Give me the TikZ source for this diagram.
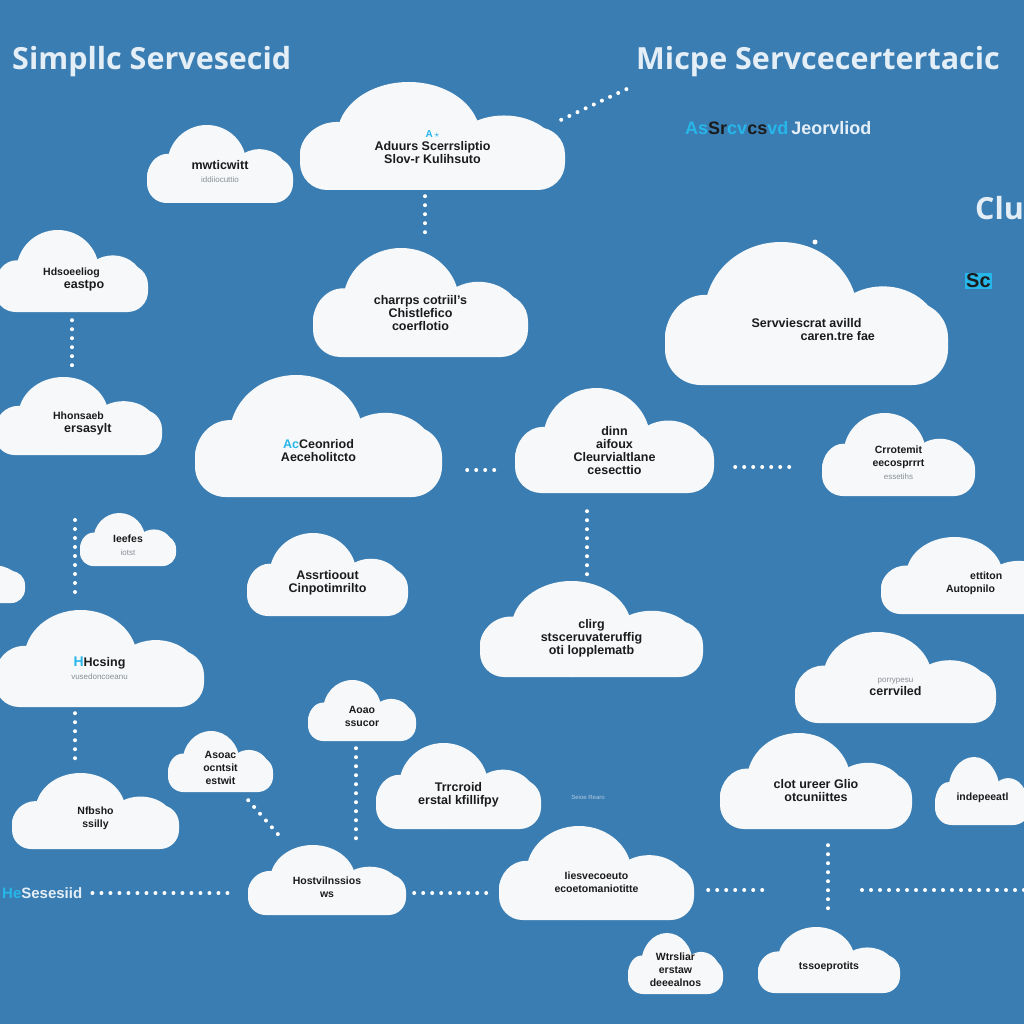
\documentclass[tikz,border=0pt]{standalone}
\usepackage{fontspec}
\setmainfont{Liberation Sans}
\newfontfamily\titlefont{Open Sans}
\usetikzlibrary{calc}
\definecolor{bg}{HTML}{3A7DB2}
\definecolor{cloudw}{HTML}{F6F8FA}
\definecolor{titlec}{HTML}{E4EEF6}
\definecolor{ink}{HTML}{1B1B1B}
\definecolor{subink}{HTML}{8A8F96}
\definecolor{glitch}{HTML}{27B6EA}
\tikzset{
  cloudfill/.style={fill=cloudw},
  ctext/.style={text=ink, font=\bfseries\fontsize{12.5}{13}\selectfont, align=center, inner sep=0pt},
  dots/.style={draw=white, line width=4pt, line cap=round, dash pattern=on 0pt off 9pt},
  titletext/.style={text=titlec, font=\titlefont\bfseries\fontsize{30.5}{30.5}\selectfont, inner sep=0pt, anchor=west},
}
\newcommand\csub{\mdseries\fontsize{8}{9}\selectfont\color{subink}}
\newcommand\smallt{\fontsize{10.5}{11}\selectfont}
% name, x0, y0, x1, y1, text
\newcommand\cloudnode[6]{%
  \pgfmathsetmacro\cw{#4-#2}%
  \pgfmathsetmacro\ch{#5-#3}%
  \pgfmathsetmacro\rc{0.25*\ch}%
  \pgfmathsetmacro\rxa{0.27*\cw}\pgfmathsetmacro\rya{0.5*\ch}%
  \pgfmathsetmacro\rxb{0.2*\cw}\pgfmathsetmacro\ryb{0.34*\ch}%
  \pgfmathsetmacro\rxc{0.14*\cw}\pgfmathsetmacro\ryc{0.31*\ch}%
  \fill[cloudfill,rounded corners=\rc pt] (#2,{#3+0.42*\ch}) rectangle (#4,#5);
  \fill[cloudfill] ({#2+0.41*\cw},{#3+0.5*\ch}) ellipse [x radius=\rxa pt, y radius=\rya pt];
  \fill[cloudfill] ({#2+0.77*\cw},{#3+0.65*\ch}) ellipse [x radius=\rxb pt, y radius=\ryb pt];
  \fill[cloudfill] ({#2+0.14*\cw},{#3+0.68*\ch}) ellipse [x radius=\rxc pt, y radius=\ryc pt];
  \node[inner sep=0pt, minimum width=\cw pt, minimum height=\ch pt] (#1) at ({(#2+#4)/2},{(#3+#5)/2}) {};
  \node[ctext] (#1-t) at ({(#2+#4)/2},{#3+0.6*\ch}) {#6};
}
\begin{document}
\begin{tikzpicture}[x=1pt,y=-1pt]
\fill[bg] (0,0) rectangle (1024,1024);
\useasboundingbox (0,0) rectangle (1024,1024);
\clip (0,0) rectangle (1024,1024);

% titles
\node[titletext] (t1) at (12,62) {Simpllc Servesecid};
\node[titletext] (t2) at (636,62) {Micpe Servcecertertacic};
\node[titletext] (t3) at (975,208) {Clu};
\node[anchor=west, inner sep=0pt, font=\bfseries\fontsize{18}{18}\selectfont] (t4) at (685,128)
  {\textcolor{glitch}{As}\textcolor{ink}{Sr}\textcolor{glitch}{cv}\textcolor{ink}{cs}\textcolor{glitch}{vd}\,\textcolor{titlec}{Jeorvliod}};
\node[anchor=west, inner sep=1pt, fill=glitch, text=ink, font=\bfseries\fontsize{20}{20}\selectfont] (t5) at (965,281) {Sc};
\node[anchor=west, inner sep=0pt, font=\bfseries\fontsize{15}{15}\selectfont] (lt) at (2,893)
  {\textcolor{glitch}{He}\textcolor{titlec}{Sesesiid}};
\node[inner sep=0pt, text=titlec!70!bg, font=\fontsize{6}{6}\selectfont] (ft) at (588,797) {Seioe Rearo};

% clouds
\cloudnode{c1}{300}{82}{565}{190}{\textcolor{glitch}{\fontsize{10}{10}\selectfont A\,$\star$}\\Aduurs Scerrsliptio\\Slov-r Kulihsuto}
\cloudnode{c2}{147}{125}{293}{203}{mwticwitt\\{\csub iddiiocuttio}}
\cloudnode{c3}{-5}{230}{148}{312}{\smallt Hdsoeeliog\\\hspace*{2em}eastpo}
\cloudnode{c4}{313}{248}{528}{357}{charrps cotriil's\\Chistlefico\\coerflotio}
\cloudnode{c5}{665}{242}{948}{385}{\\Servviescrat avilld\\\hspace*{5em}caren.tre fae}
\cloudnode{c6}{-5}{377}{162}{455}{\smallt Hhonsaeb\\\hspace*{1.5em}ersasylt}
\cloudnode{c7}{195}{375}{442}{497}{\\\textcolor{glitch}{Ac}Ceonriod\\Aeceholitcto}
\cloudnode{c8}{515}{388}{714}{493}{dinn\\aifoux\\Cleurvialtlane\\cesecttio}
\cloudnode{c9}{822}{413}{975}{496}{\smallt Crrotemit\\\smallt eecosprrrt\\{\csub essetihs}}
\cloudnode{c10}{80}{513}{176}{566}{\smallt Ieefes\\{\csub iotst}}
\cloudnode{c11}{247}{533}{408}{616}{Assrtioout\\Cinpotimrilto}
\cloudnode{c12}{-120}{548}{25}{603}{}
\cloudnode{c13}{881}{537}{1060}{614}{\smallt\hspace*{3em}ettiton\\\smallt Autopnilo}
\cloudnode{c14}{-5}{610}{204}{707}{\textcolor{glitch}{\fontsize{14}{14}\selectfont H}Hcsing\\{\csub vusedoncoeanu}}
\cloudnode{c15}{480}{581}{703}{677}{clirg\\stsceruvateruffig\\oti lopplematb}
\cloudnode{c16}{795}{632}{996}{723}{{\csub porrypesu}\\cerrviled}
\cloudnode{c17}{308}{680}{416}{741}{\smallt Aoao\\\smallt ssucor}
\cloudnode{c18}{168}{731}{273}{792}{\smallt Asoac\\\smallt ocntsit\\\smallt estwit}
\cloudnode{c19}{376}{743}{541}{829}{Trrcroid\\erstal kfillifpy}
\cloudnode{c20}{720}{733}{912}{829}{clot ureer Glio\\otcuniittes}
\cloudnode{c21}{935}{757}{1030}{825}{\smallt indepeeatl}
\cloudnode{c22}{12}{773}{179}{849}{\smallt Nfbsho\\\smallt ssilly}
\cloudnode{c23}{248}{845}{406}{915}{\smallt Hostvilnssios\\\smallt ws}
\cloudnode{c24}{499}{826}{694}{920}{\smallt Iiesvecoeuto\\\smallt ecoetomaniotitte}
\cloudnode{c25}{628}{933}{723}{994}{\smallt Wtrsliar\\\smallt erstaw\\\smallt deeealnos}
\cloudnode{c26}{758}{927}{900}{993}{\smallt tssoeprotits}

% free ends
\coordinate (lv) at (75,520);
\coordinate (r1) at (768,890);
\coordinate (r2) at (862,890);
\coordinate (r3) at (1030,890);

% connectors
\draw[dots] ($(c1.north east)+(-4,38)$) -- ($(t2.south west)+(-6,10)$);
\draw[dots, shorten <=6pt, shorten >=12pt] (c1.south -| 425,0) -- (c4.north -| 425,0);
\draw[dots, shorten <=8pt, shorten >=10pt] (c3.south -| 72,0) -- (c6.north -| 72,0);
\draw[dots, shorten <=25pt, shorten >=18pt] (c7.east |- 0,470) -- (c8.west |- 0,470);
\draw[dots, shorten <=21pt, shorten >=27pt] (c8.east |- 0,467) -- (c9.west |- 0,467);
\draw[dots, shorten <=18pt, shorten >=6pt] (c8.south -| 587,0) -- (c15.north -| 587,0);
\draw[dots, shorten >=14pt] (lv) -- (lv |- c14.north);
\draw[dots, shorten <=6pt, shorten >=14pt] (c14.south -| lv) -- (c22.north -| lv);
\draw[dots, shorten <=7pt, shorten >=5pt] (c17.south -| 356,0) -- (c23.north -| 356,0);
\draw[dots] ($(c18.south east)+(-25,8)$) -- ($(c23.north west)+(35,-5)$);
\draw[dots, shorten <=10pt, shorten >=12pt] (lt.east) -- (c23.west |- lt.east);
\draw[dots, shorten <=8pt, shorten >=12pt] (c23.east |- 0,893) -- (c24.west |- 0,893);
\draw[dots, shorten <=14pt] (c24.east |- r1) -- (r1);
\draw[dots, shorten <=16pt, shorten >=12pt] (c20.south -| 828,0) -- (c26.north -| 828,0);
\draw[dots] (r2) -- (r3);
\fill[white] (815,242) circle (2.5pt);
\end{tikzpicture}
\end{document}
